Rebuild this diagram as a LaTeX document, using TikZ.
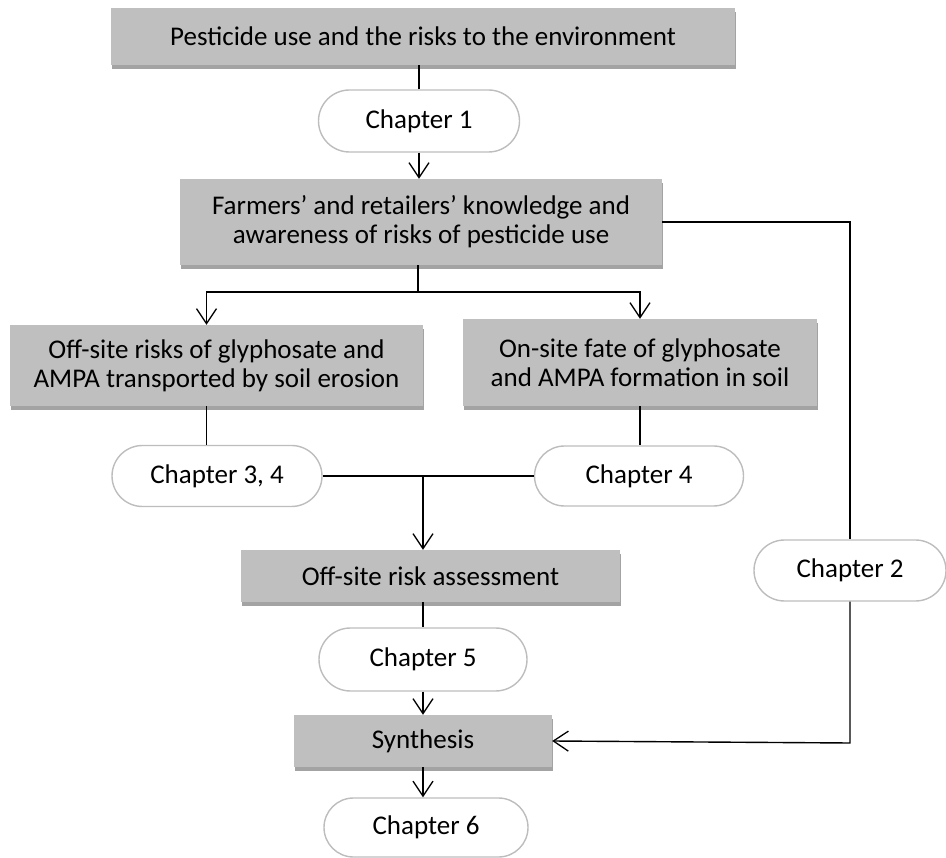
\documentclass[tikz,border=0pt]{standalone}
\usepackage{fontspec}
\setmainfont{Carlito}
\usetikzlibrary{arrows.meta,shapes.misc,shadows}
\definecolor{boxgray}{HTML}{BFBFBF}
\definecolor{shadowgray}{HTML}{A3A3A3}
\definecolor{pillborder}{HTML}{BDBDBD}
\tikzset{
  graybox/.style={rectangle, fill=boxgray, inner sep=2pt, align=center,
    font=\fontsize{27}{29}\selectfont,
    drop shadow={shadow xshift=1pt, shadow yshift=-4pt, fill=shadowgray, opacity=1}},
  pill/.style={rounded rectangle, draw=pillborder, line width=1.4pt, fill=white,
    inner sep=2pt, font=\fontsize{27}{29}\selectfont},
  conn/.style={draw=black, line width=1.4pt},
  arr/.style={conn, -{Straight Barb[length=15pt,width=20pt,line width=1.3pt]}}
}
\begin{document}
\begin{tikzpicture}[x=1pt,y=-1pt]
\useasboundingbox (0,0) rectangle (946,858);
% gray boxes
\node[graybox, minimum width=624pt, minimum height=57pt] (top) at (423,36.5) {Pesticide use and the risks to the environment};
\node[graybox, minimum width=482pt, minimum height=86pt] (know) at (421,222) {Farmers’ and retailers’ knowledge and\\awareness of risks of pesticide use};
\node[graybox, minimum width=413pt, minimum height=81pt] (offsite) at (216.5,365.5) {Off-site risks of glyphosate and\\AMPA transported by soil erosion};
\node[graybox, minimum width=354pt, minimum height=87pt] (onsite) at (640,362.5) {On-site fate of glyphosate\\and AMPA formation in soil};
\node[graybox, minimum width=379pt, minimum height=52pt] (assess) at (430.5,576) {Off-site risk assessment};
\node[graybox, minimum width=258pt, minimum height=52pt] (synth) at (423,741) {Synthesis};
% chapter pills
\node[pill, minimum width=205pt, minimum height=62pt] (ch1) at (419,121) {Chapter 1};
\node[pill, minimum width=214pt, minimum height=61pt] (ch34) at (217,476) {Chapter 3, 4};
\node[pill, minimum width=213pt, minimum height=60pt] (ch4) at (639,476) {Chapter 4};
\node[pill, minimum width=196pt, minimum height=61pt] (ch2) at (850,570.5) {Chapter 2};
\node[pill, minimum width=212pt, minimum height=63pt] (ch5) at (423,659.5) {Chapter 5};
\node[pill, minimum width=208pt, minimum height=59pt] (ch6) at (426,827.5) {Chapter 6};
% coordinates
\coordinate (split) at (418,292);
\coordinate (join) at (423,476);
\coordinate (corner) at (850,222);
\coordinate (corner2) at (850,743);
% connectors
\draw[conn] (ch1.north) -- (ch1.north |- top.south);
\draw[arr] (ch1.south) -- (ch1.south |- know.north);
\draw[conn] (know.south -| split) -- (split);
\draw[arr] (split) -| ([xshift=-10pt]offsite.north);
\draw[arr] (split) -| (onsite.north);
\draw[conn] ([xshift=-10pt]offsite.south) -- ([xshift=-10pt]offsite.south |- ch34.north);
\draw[conn] (onsite.south) -- (onsite.south |- ch4.north);
\draw[conn] (ch34.east) -- (ch4.west);
\draw[arr] (join) -- (join |- assess.north);
\draw[conn] (assess.south -| ch5.north) -- (ch5.north);
\draw[arr] (ch5.south) -- (ch5.south |- synth.north);
\draw[arr] (synth.south) -- (synth.south |- ch6.north);
\draw[conn] (know.east) -- (corner) -- (ch2.north);
\draw[arr] (ch2.south) -- (corner2) -- (synth.east);
\end{tikzpicture}
\end{document}
